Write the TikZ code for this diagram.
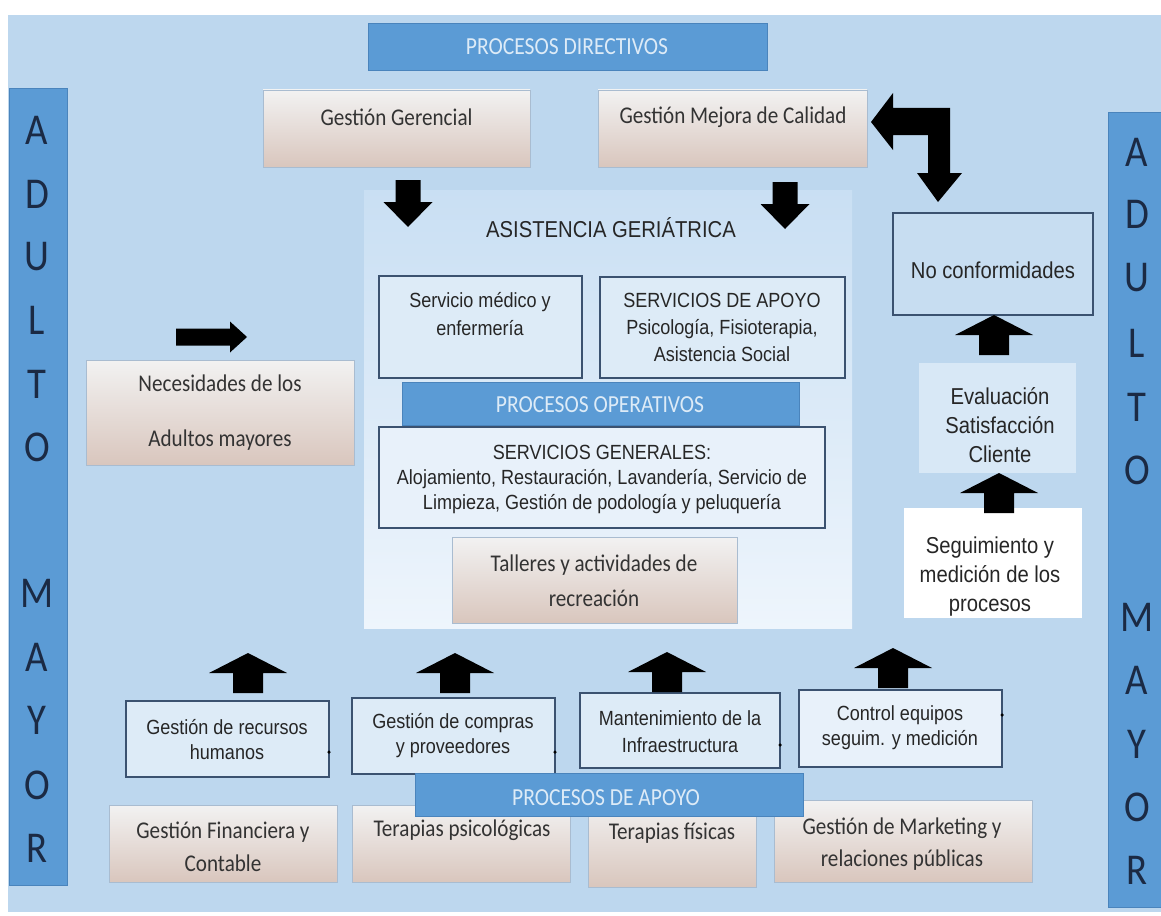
\documentclass[tikz,border=0pt]{standalone}
\usepackage{fontspec}
\newfontfamily\calfont[FakeStretch=0.88]{Carlito}
\newfontfamily\arifont[FakeStretch=0.88]{Liberation Sans}
\definecolor{bgblue}{HTML}{BDD7EE}
\definecolor{barblue}{HTML}{5B9BD5}
\definecolor{baredge}{HTML}{4A84BC}
\definecolor{bartext}{HTML}{DDEBF7}
\definecolor{lettercol}{HTML}{1B2A44}
\definecolor{gradtop}{HTML}{F2F2F2}
\definecolor{gradbot}{HTML}{D9C6BD}
\definecolor{gradedge}{HTML}{A9BCD0}
\definecolor{boxedge}{HTML}{3B5270}
\definecolor{paleblue}{HTML}{DDEBF7}
\definecolor{paleblue2}{HTML}{E8F1FA}
\definecolor{regiontop}{HTML}{C9DFF3}
\definecolor{regionbot}{HTML}{EEF5FC}
\definecolor{txtgray}{HTML}{333333}
\newcommand\boxnode[6]{\node[rect,#1,minimum width={#5-#3},minimum height={#6-#4}] (#2) at (#3,#4) {};}
\tikzset{
  rect/.style={rectangle, inner sep=0pt, outer sep=0pt, anchor=north west},
  bgstyle/.style={fill=bgblue, draw=none},
  sidebar/.style={fill=barblue, draw=baredge, line width=0.8pt},
  procbar/.style={fill=barblue, draw=baredge, line width=0.8pt},
  region/.style={top color=regiontop, bottom color=regionbot, draw=none},
  gradbox/.style={top color=gradtop, bottom color=gradbot, draw=gradedge, line width=0.8pt},
  bluebox/.style={fill=paleblue, draw=boxedge, line width=1.5pt},
  whitebox/.style={fill=paleblue2, draw=boxedge, line width=1.5pt},
  softbox/.style={fill=#1, draw=none},
  ctxt/.style={font=\calfont\fontsize{24}{33}\selectfont, text=txtgray, align=center, inner sep=0pt},
  atxt/.style={font=\arifont\fontsize{20.5}{27}\selectfont, text=black!85, align=center, inner sep=0pt},
  btxt/.style={font=\arifont\fontsize{23}{29}\selectfont, text=black!85, align=center, inner sep=0pt},
  ptxt/.style={font=\calfont\fontsize{24.5}{26}\selectfont, text=bartext, inner sep=0pt},
  letter/.style={font=\calfont\fontsize{44}{44}\selectfont, text=lettercol, inner sep=0pt},
  dotmark/.style={circle, fill=black, inner sep=0pt, minimum size=3.5pt},
  uparr/.pic={\fill[black] (0,0) -- (39,20) -- (15,20) -- (15,40) -- (-15,40) -- (-15,20) -- (-39,20) -- cycle;},
  downarr/.pic={\fill[black] (-12.5,0) -- (12.5,0) -- (12.5,22) -- (24.5,22) -- (0,47) -- (-24.5,22) -- (-12.5,22) -- cycle;},
  rightarr/.pic={\fill[black] (0,-8.5) -- (54,-8.5) -- (54,-15.5) -- (71,0) -- (54,15.5) -- (54,8.5) -- (0,8.5) -- cycle;}
}
\begin{document}
\begin{tikzpicture}[x=1pt,y=-1pt]
\useasboundingbox (0,0) rectangle (1161,915);
\fill[white] (0,0) rectangle (1161,915);
% background and side bars
\boxnode{bgstyle}{bg}{8}{15}{1161}{912}
\boxnode{sidebar}{leftbar}{9}{88}{67}{885}
\boxnode{sidebar}{rightbar}{1108}{112}{1161}{907}
\foreach \ch/\yy [count=\i] in {A/130,D/194,U/257,L/320,T/384,O/447,M/593,A/657,Y/720,O/785,R/848}
  \node[letter] (lt\i) at (37,\yy) {\ch};
\foreach \ch/\yy [count=\i] in {A/152,D/214,U/278,L/343,T/407,O/470,M/617,A/680,Y/744,O/807,R/870}
  \node[letter] (rt\i) at (1137,\yy) {\ch};
% directive processes
\boxnode{procbar}{pd}{368}{23}{767}{70}
\node[ptxt] (pdt) at (567,47) {PROCESOS DIRECTIVOS};
\boxnode{gradbox}{gg}{263}{90}{530}{167}
\node[ctxt] (ggt) at (396.5,117) {Gestión Gerencial};
\boxnode{gradbox}{gmc}{598}{90}{867}{167}
\node[ctxt] (gmct) at (733,117) {Gestión Mejora de Calidad};
% geriatric assistance region
\boxnode{region}{asis}{364}{190}{852}{628}
\node[btxt] (asist) at (611,228) {ASISTENCIA GERIÁTRICA};
\boxnode{bluebox}{sme}{379}{276}{582}{378}
\node[atxt, font=\arifont\fontsize{20.5}{28}\selectfont] (smet) at (480,314) {Servicio médico y\\enfermería};
\boxnode{bluebox}{sda}{600}{277}{845}{378}
\node[atxt] (sdat) at (722,327) {SERVICIOS DE APOYO\\Psicología, Fisioterapia,\\Asistencia Social};
\boxnode{procbar}{po}{402}{382}{799}{425}
\node[ptxt] (pot) at (600,405) {PROCESOS OPERATIVOS};
\boxnode{whitebox}{sg}{379}{427}{825}{528}
\node[atxt, font=\arifont\fontsize{20.5}{25}\selectfont] (sgt) at (602,479) {SERVICIOS GENERALES:\\Alojamiento, Restauración, Lavandería, Servicio de\\Limpieza, Gestión de podología y peluquería};
\boxnode{gradbox}{tal}{452}{537}{737}{623}
\node[ctxt, font=\calfont\fontsize{24}{35}\selectfont] (talt) at (594,581) {Talleres y actividades de\\recreación};
% left input
\boxnode{gradbox}{nec}{86}{360}{354}{465}
\node[ctxt, font=\calfont\fontsize{24}{55}\selectfont] (nect) at (220,413) {Necesidades de los\\Adultos mayores};
\pic at (176,337) {rightarr};
% right column
\boxnode{softbox={bgblue!70!paleblue},draw=boxedge,line width=1.5pt}{nc}{893}{213}{1093}{315}
\node[btxt] (nct) at (993,270) {No conformidades};
\boxnode{softbox=paleblue!85!bgblue}{eva}{919}{363}{1076}{473}
\node[btxt] (evat) at (1000,425) {Evaluación\\Satisfacción\\Cliente};
\boxnode{softbox=white}{seg}{904}{508}{1082}{618}
\node[btxt] (segt) at (990,577) {Seguimiento y\\medición de los\\procesos};
\pic at (994,315) {uparr};
\pic at (999,473) {uparr};
% arrows from directive processes
\pic at (408,180) {downarr};
\pic at (785,182) {downarr};
\fill[black] (871,122) -- (893,93) -- (893,108) -- (950,108) -- (950,173) -- (962,173)
  -- (938,202) -- (917,173) -- (928,173) -- (928,135) -- (893,135) -- (893,150) -- cycle;
% support processes
\boxnode{gradbox}{fin}{109}{805}{337}{882}
\node[ctxt] (fint) at (223,847) {Gestión Financiera y\\Contable};
\boxnode{gradbox}{tps}{352}{805}{570}{882}
\node[ctxt] (tpst) at (462,830) {Terapias psicológicas};
\boxnode{gradbox}{tfi}{588}{800}{756}{887}
\node[ctxt] (tfit) at (672,833) {Terapias físicas};
\boxnode{gradbox}{mkt}{774}{800}{1032}{882}
\node[ctxt, font=\calfont\fontsize{24}{32}\selectfont] (mktt) at (902,844) {Gestión de Marketing y\\relaciones públicas};
\boxnode{bluebox}{rh}{126}{701}{329}{777}
\node[atxt, font=\arifont\fontsize{20.5}{25}\selectfont] (rht) at (227,740) {Gestión de recursos\\humanos};
\boxnode{bluebox}{cp}{352}{698}{555}{774}
\node[atxt, font=\arifont\fontsize{20.5}{25}\selectfont] (cpt) at (453,736) {Gestión de compras\\y proveedores};
\boxnode{bluebox}{mi}{580}{693}{780}{768}
\node[atxt, font=\arifont\fontsize{20.5}{27}\selectfont] (mit) at (680,732) {Mantenimiento de la\\Infraestructura};
\boxnode{whitebox}{ce}{799}{690}{1002}{767}
\node[atxt, font=\arifont\fontsize{20.5}{25}\selectfont] (cet) at (900,728) {Control equipos\\seguim. y medición};
\boxnode{procbar}{pa}{415}{773}{803}{816}
\node[ptxt] (pat) at (606,798) {PROCESOS DE APOYO};
\node[dotmark] (dot1) at (329,752) {};
\node[dotmark] (dot2) at (555,752) {};
\node[dotmark] (dot3) at (780,745) {};
\node[dotmark] (dot4) at (1002,715) {};
\pic at (248,653) {uparr};
\pic at (455,653) {uparr};
\pic at (667,652) {uparr};
\pic at (893,648) {uparr};
\end{tikzpicture}
\end{document}
